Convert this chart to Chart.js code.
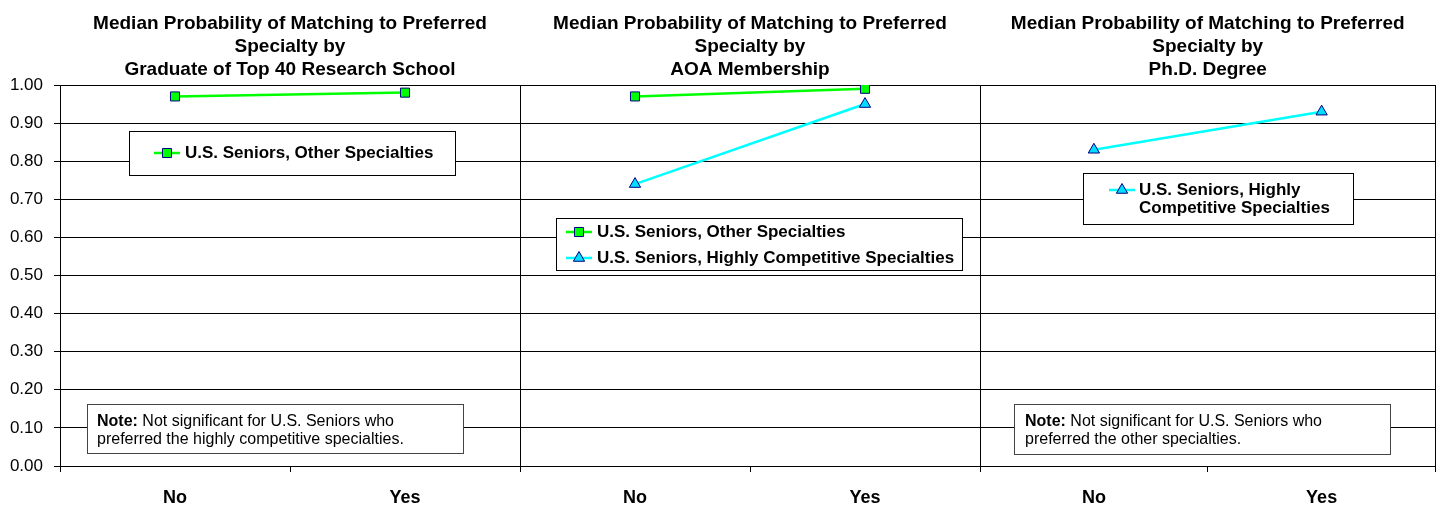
<!DOCTYPE html>
<html>
<head>
<meta charset="utf-8">
<script src="https://cdn.jsdelivr.net/npm/chart.js@4/dist/chart.umd.min.js"></script>
<style>
  html, body { margin: 0; padding: 0; background: #fff; }
  #wrap { position: relative; width: 1443px; height: 506px; }
  #wrap canvas { position: absolute; left: 0; top: 0; }
</style>
</head>
<body>
<div id="wrap">
  <canvas id="p1" width="1443" height="506"></canvas>
  <canvas id="p2" width="1443" height="506"></canvas>
  <canvas id="p3" width="1443" height="506"></canvas>
</div>
<script>
const categories = ["No", "Yes"];

const titleTop40 = ["Median Probability of Matching to Preferred", "Specialty by", "Graduate of Top 40 Research School"];
const titleAOA = ["Median Probability of Matching to Preferred", "Specialty by", "AOA Membership"];
const titlePhD = ["Median Probability of Matching to Preferred", "Specialty by", "Ph.D. Degree"];

// median probabilities
const otherTop40 = [0.97, 0.98];
const otherAOA = [0.97, 0.99];
const competitiveAOA = [0.74, 0.95];
const competitivePhD = [0.83, 0.93];

const labelOther = "U.S. Seniors, Other Specialties";
const labelCompetitive = "U.S. Seniors, Highly Competitive Specialties";
const noteTop40 = ["Not significant for U.S. Seniors who", "preferred the highly competitive specialties."];
const notePhD = ["Not significant for U.S. Seniors who", "preferred the other specialties."];

const FONT = "'Liberation Sans', Arial, sans-serif";

const greenStyle = {
  borderColor: "#00FF00", borderWidth: 2.5,
  pointStyle: "rect", pointRadius: 6.4,
  pointBackgroundColor: "#00FF00", pointBorderColor: "#000080", pointBorderWidth: 1
};
const cyanStyle = {
  borderColor: "#00FFFF", borderWidth: 2.5,
  pointStyle: "triangle", pointRadius: 6.5,
  pointBackgroundColor: "#00DDFF", pointBorderColor: "#000080", pointBorderWidth: 1
};

function drawMarker(ctx, ds, x, y) {
  ctx.save();
  ctx.strokeStyle = ds.borderColor;
  ctx.lineWidth = ds.borderWidth;
  ctx.beginPath();
  ctx.moveTo(x - 13, y);
  ctx.lineTo(x + 13, y);
  ctx.stroke();
  ctx.fillStyle = ds.pointBackgroundColor;
  ctx.strokeStyle = ds.pointBorderColor;
  ctx.lineWidth = ds.pointBorderWidth;
  Chart.helpers.drawPoint(ctx, { pointStyle: ds.pointStyle, radius: ds.pointRadius, rotation: 0, borderWidth: 1 }, x, y);
  ctx.restore();
}

// legend and note boxes drawn inside the plot
const boxesPlugin = {
  id: "boxes",
  afterDatasetsDraw(chart, args, opts) {
    const ctx = chart.ctx;
    const datasets = chart.data.datasets;
    (opts.items || []).forEach(b => {
      ctx.save();
      ctx.fillStyle = "#fff";
      ctx.fillRect(b.x, b.y, b.w, b.h);
      ctx.strokeStyle = b.note ? "#444" : "#000";
      ctx.lineWidth = 1;
      ctx.strokeRect(b.x + 0.5, b.y + 0.5, b.w, b.h);
      ctx.fillStyle = "#000";
      ctx.textBaseline = "middle";
      if (b.note) {
        ctx.font = "bold 16px " + FONT;
        ctx.fillText("Note:", b.tx, b.rows[0]);
        const w = ctx.measureText("Note: ").width;
        ctx.font = "16px " + FONT;
        ctx.fillText(b.note[0], b.tx + w, b.rows[0]);
        ctx.fillText(b.note[1], b.tx, b.rows[1]);
      } else {
        ctx.font = "bold 17px " + FONT;
        b.entries.forEach((e, i) => {
          drawMarker(ctx, datasets[e.ds], b.mx, b.rows[i]);
          e.text.forEach((t, j) => ctx.fillText(t, b.tx, b.rows[i] + j * 18));
        });
      }
      ctx.restore();
    });
  }
};

function makePanel(id, left, right, title, datasets, items, firstPanel, lastPanel) {
  const scales = {
    x: {
      type: "category", offset: true,
      grid: { offset: true, drawOnChartArea: false, drawTicks: true, tickLength: 6, color: "#000" },
      border: { display: true, color: "#000", width: 1 },
      ticks: { color: "#000", font: { family: FONT, size: 18, weight: "bold" }, padding: 15 },
      afterFit: s => { s.height = 40; }
    },
    y: {
      min: 0, max: 1,
      grid: { color: "#000", lineWidth: 1, drawTicks: firstPanel, tickLength: 6 },
      border: { display: true, color: "#000", width: 1 },
      ticks: {
        display: firstPanel, stepSize: 0.1, color: "#000", padding: 11,
        font: { family: FONT, size: 17 },
        callback: v => v.toFixed(2)
      },
      afterFit: s => { s.width = firstPanel ? 60 : 0; }
    }
  };
  if (lastPanel) {
    scales.y2 = {
      position: "right", min: 0, max: 1,
      grid: { drawOnChartArea: false, drawTicks: false },
      border: { display: true, color: "#000", width: 1 },
      ticks: { display: false },
      afterFit: s => { s.width = 0; }
    };
  }
  return new Chart(document.getElementById(id), {
    type: "line",
    data: { labels: categories, datasets: datasets },
    options: {
      responsive: false,
      animation: false,
      events: [],
      layout: { padding: { left: firstPanel ? 0 : left, right: 1443 - right, top: 0, bottom: 0 } },
      plugins: {
        legend: { display: false },
        tooltip: { enabled: false },
        title: {
          display: true, text: title, fullSize: false, color: "#000",
          font: { family: FONT, size: 19, weight: "bold", lineHeight: "23px" },
          padding: { top: 12, bottom: 4 }
        },
        boxes: { items: items }
      },
      scales: scales
    },
    plugins: [boxesPlugin]
  });
}

makePanel("p1", 0, 520, titleTop40,
  [Object.assign({ label: labelOther, data: otherTop40 }, greenStyle)],
  [
    { x: 129, y: 131, w: 326, h: 44, mx: 167, tx: 185, rows: [153],
      entries: [{ ds: 0, text: [labelOther] }] },
    { x: 87, y: 404, w: 376, h: 49, tx: 97, rows: [422, 440], note: noteTop40 }
  ], true, false);

makePanel("p2", 520, 980, titleAOA,
  [Object.assign({ label: labelOther, data: otherAOA }, greenStyle),
   Object.assign({ label: labelCompetitive, data: competitiveAOA }, cyanStyle)],
  [
    { x: 556, y: 218, w: 406, h: 52, mx: 579, tx: 597, rows: [232, 258],
      entries: [{ ds: 0, text: [labelOther] }, { ds: 1, text: [labelCompetitive] }] }
  ], false, false);

makePanel("p3", 980, 1438, titlePhD,
  [Object.assign({ label: labelCompetitive, data: competitivePhD }, cyanStyle)],
  [
    { x: 1083, y: 173, w: 270, h: 51, mx: 1122, tx: 1139, rows: [190],
      entries: [{ ds: 0, text: ["U.S. Seniors, Highly", "Competitive Specialties"] }] },
    { x: 1014, y: 404, w: 376, h: 50, tx: 1025, rows: [422, 440], note: notePhD }
  ], false, true);
</script>
</body>
</html>
